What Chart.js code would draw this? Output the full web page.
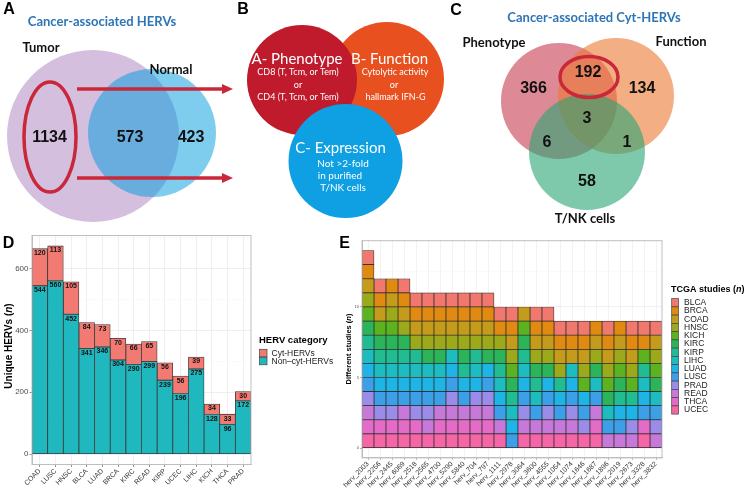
<!DOCTYPE html>
<html><head><meta charset="utf-8">
<script src="https://cdn.jsdelivr.net/npm/chart.js@4.4.1/dist/chart.umd.min.js"></script>
<style>
html,body{margin:0;padding:0;background:#fff;width:750px;height:492px;overflow:hidden;}
canvas{position:absolute;}
</style></head><body>
<canvas id="ov" width="750" height="492" style="left:0;top:0;z-index:1;width:750px;height:492px"></canvas>
<canvas id="cd" width="255" height="260" style="left:0;top:232px;z-index:2;width:255px;height:260px"></canvas>
<canvas id="ce" width="330" height="260" style="left:336px;top:232px;z-index:2;width:330px;height:260px"></canvas>
<script>
// ---------------- DATA ----------------
const vennASets = ['Tumor', 'Normal'];
const vennACounts = [1134, 573, 423];            // tumor only, both, normal only
const criteria = ['A- Phenotype', 'B- Function', 'C- Expression'];
const vennCSets = ['Phenotype', 'Function', 'T/NK cells'];
const vennCCounts = [366, 192, 134, 3, 6, 1, 58]; // P, P&F, F, all, P&T, F&T, T

const cancerTypes = ['COAD','LUSC','HNSC','BLCA','LUAD','BRCA','KIRC','READ','KIRP','UCEC','LIHC','KICH','THCA','PRAD'];
const cytHERVs    = [120,113,105,84,73,70,66,65,56,56,39,34,33,30];
const nonCytHERVs = [544,560,452,341,346,304,290,299,239,196,275,128,96,172];
const dYTicks = [0,200,400,600];

const tcgaStudies = ['BLCA','BRCA','COAD','HNSC','KICH','KIRC','KIRP','LIHC','LUAD','LUSC','PRAD','READ','THCA','UCEC'];
const hervIds = ['herv_2003','herv_2256','herv_2445','herv_6069','herv_2518','herv_2565','herv_4700','herv_5290','herv_5840','herv_704','herv_797','herv_1111','herv_2978','herv_3064','herv_3600','herv_4555','herv_1054','herv_1074','herv_1646','herv_1687','herv_1896','herv_2019','herv_2673','herv_3328','herv_3832'];
const hervStudies = [
 ['BLCA','BRCA','COAD','HNSC','KICH','KIRC','KIRP','LIHC','LUAD','LUSC','PRAD','READ','THCA','UCEC'],
 ['BLCA','BRCA','COAD','KICH','KIRC','KIRP','LIHC','LUAD','LUSC','PRAD','THCA','UCEC'],
 ['BRCA','COAD','HNSC','KICH','KIRC','KIRP','LIHC','LUAD','LUSC','PRAD','THCA','UCEC'],
 ['BLCA','BRCA','COAD','HNSC','KIRC','KIRP','LIHC','LUAD','LUSC','READ','THCA','UCEC'],
 ['BLCA','BRCA','COAD','HNSC','KIRP','LIHC','LUAD','LUSC','PRAD','THCA','UCEC'],
 ['BLCA','BRCA','COAD','HNSC','KIRC','LIHC','LUAD','LUSC','PRAD','READ','UCEC'],
 ['BLCA','BRCA','COAD','HNSC','KIRC','LIHC','LUAD','LUSC','READ','THCA','UCEC'],
 ['BLCA','BRCA','COAD','HNSC','LIHC','LUAD','LUSC','PRAD','READ','THCA','UCEC'],
 ['BLCA','BRCA','COAD','HNSC','KIRC','KIRP','LUAD','LUSC','READ','THCA','UCEC'],
 ['BLCA','BRCA','COAD','HNSC','KIRP','LIHC','LUAD','PRAD','READ','THCA','UCEC'],
 ['BLCA','BRCA','COAD','HNSC','KIRC','LUAD','LUSC','PRAD','READ','THCA','UCEC'],
 ['BLCA','BRCA','HNSC','KIRC','KIRP','LIHC','LUAD','LUSC','READ','UCEC'],
 ['BLCA','BRCA','COAD','HNSC','KICH','KIRC','KIRP','LIHC','LUAD','LUSC'],
 ['COAD','KICH','KIRC','KIRP','LIHC','LUAD','LUSC','PRAD','READ','UCEC'],
 ['BLCA','BRCA','COAD','HNSC','KIRC','KIRP','LIHC','LUSC','READ','UCEC'],
 ['BLCA','BRCA','COAD','HNSC','KIRC','LUAD','LUSC','PRAD','READ','UCEC'],
 ['BLCA','BRCA','COAD','HNSC','KIRP','LUAD','LUSC','READ','UCEC'],
 ['BLCA','BRCA','COAD','LIHC','LUAD','LUSC','PRAD','READ','UCEC'],
 ['BLCA','BRCA','COAD','HNSC','KICH','LUAD','LUSC','PRAD','UCEC'],
 ['BRCA','COAD','HNSC','KIRC','LIHC','LUSC','READ','THCA','UCEC'],
 ['BLCA','BRCA','COAD','HNSC','KICH','KIRC','LIHC','LUSC','READ'],
 ['BRCA','COAD','HNSC','KICH','KIRC','KIRP','LUAD','LUSC','READ'],
 ['BLCA','BRCA','COAD','HNSC','KICH','KIRP','LUAD','PRAD','READ'],
 ['BLCA','BRCA','KICH','KIRP','LIHC','LUAD','LUSC','THCA','UCEC'],
 ['BLCA','COAD','HNSC','KICH','KIRC','LIHC','LUSC','PRAD','READ']
];
const eYTicks = [0,5,10];

// ---------------- STYLE ----------------
const SANS = "'Liberation Sans', Arial, sans-serif";
const CAL = "Lato, 'Open Sans', sans-serif";
const studyColors = ['#F0786E','#E08A12','#C49B1A','#9CA91A','#5CB31F','#2BB45A','#21BC92','#1CBCC0','#1FB4E6','#3D9FE8','#9A8CE8','#C779D9','#E46BC6','#F466A6'];
const cytColor = '#F27A72', nonCytColor = '#1FB8BE';
const GRID = '#EBEBEB', BORDER = '#BEBEBE';

// layout of the diagram panels (page pixels)
const vennALayout = [{x:93,y:136,r:86,c:'rgba(169,127,191,0.5)'},{x:152,y:133,r:64,c:'rgba(0,155,221,0.5)'}];
const critLayout  = [{x:302,y:80,r:55,c:'#BF1B2C'},{x:387,y:79,r:57,c:'#E8511F'},{x:345.5,y:161,r:57,c:'#0EA0E2'}];
const vennCLayout = [{x:559,y:101,r:58,c:'rgba(200,60,80,0.6)'},{x:616,y:96,r:58,c:'rgba(235,120,50,0.6)'},{x:587,y:152,r:58,c:'rgba(40,165,115,0.6)'}];

// ---------------- OVERLAY (Venn panels, legends, titles) ----------------
function bubble(l, order){ return {type:'bubble', data:[{x:l.x,y:l.y,r:l.r}], backgroundColor:l.c, borderWidth:0, hoverRadius:0, order:order, clip:false}; }
const ovDatasets = [
  bubble(vennALayout[0],10), bubble(vennALayout[1],9),
  bubble(critLayout[1],8), bubble(critLayout[0],7), bubble(critLayout[2],6),
  bubble(vennCLayout[0],5), bubble(vennCLayout[1],4), bubble(vennCLayout[2],3)
];

function txt(ctx, s, x, y, font, color, align){ ctx.font=font; ctx.fillStyle=color; ctx.textAlign=align||'center'; ctx.textBaseline='middle'; ctx.fillText(s,x,y); }
function richTitle(ctx, parts, x, y, size, align){
  ctx.textBaseline='middle'; ctx.fillStyle='#000';
  let w=0; parts.forEach(p=>{ctx.font=(p[1]?'italic ':'')+'bold '+size+'px '+SANS; w+=ctx.measureText(p[0]).width;});
  let cx = align==='left' ? x : x - w/2;
  ctx.textAlign='left';
  parts.forEach(p=>{ctx.font=(p[1]?'italic ':'')+'bold '+size+'px '+SANS; ctx.fillText(p[0],cx,y); cx+=ctx.measureText(p[0]).width;});
}

const overlayPlugin = {
  id:'overlay',
  afterDatasetsDraw(chart){
    const ctx = chart.ctx, X = v=>chart.scales.x.getPixelForValue(v), Y = v=>chart.scales.y.getPixelForValue(v);
    ctx.save();
    const L = 'bold 16px '+SANS;
    txt(ctx,'A',X(9),Y(9.5),L,'#000'); txt(ctx,'B',X(243),Y(9.5),L,'#000'); txt(ctx,'C',X(456),Y(10.5),L,'#000');
    txt(ctx,'D',X(8.5),Y(243.5),L,'#000'); txt(ctx,'E',X(344.5),Y(244),L,'#000');
    // ---- A
    txt(ctx,'Cancer-associated HERVs',X(102),Y(22),'bold 13px '+CAL,'#2E75B6');
    txt(ctx,vennASets[0],X(41),Y(48),'bold 13px '+CAL,'#111');
    txt(ctx,vennASets[1],X(171),Y(70),'bold 13px '+CAL,'#111');
    const N='bold 16px '+SANS;
    txt(ctx,String(vennACounts[0]),X(49.5),Y(137.5),N,'#111');
    txt(ctx,String(vennACounts[1]),X(130),Y(137.5),N,'#111');
    txt(ctx,String(vennACounts[2]),X(191),Y(137.5),N,'#111');
    ctx.strokeStyle='#C9283A'; ctx.lineWidth=3.5;
    ctx.beginPath(); ctx.ellipse(X(50),Y(137),26,55,0,0,Math.PI*2); ctx.stroke();
    [89,178].forEach(yy=>{
      ctx.strokeStyle='#C9283A'; ctx.fillStyle='#C9283A'; ctx.lineWidth=3.5;
      ctx.beginPath(); ctx.moveTo(X(77),Y(yy)); ctx.lineTo(X(224),Y(yy)); ctx.stroke();
      ctx.beginPath(); ctx.moveTo(X(233),Y(yy)); ctx.lineTo(X(222),Y(yy-5)); ctx.lineTo(X(222),Y(yy+5)); ctx.closePath(); ctx.fill();
    });
    // ---- B
    const W='#fff';
    txt(ctx,criteria[0],X(297),Y(59),'15px '+CAL,W);
    txt(ctx,'CD8 (T, Tcm, or Tem)',X(298),Y(72.5),'9px '+CAL,W);
    txt(ctx,'or',X(298),Y(85),'9px '+CAL,W);
    txt(ctx,'CD4 (T, Tcm, or Tem)',X(298),Y(97),'9px '+CAL,W);
    txt(ctx,criteria[1],X(389.5),Y(59),'15px '+CAL,W);
    txt(ctx,'Cytolytic activity',X(395),Y(72.5),'9px '+CAL,W);
    txt(ctx,'or',X(394),Y(85),'9px '+CAL,W);
    txt(ctx,'hallmark IFN-G',X(395.5),Y(97),'9px '+CAL,W);
    txt(ctx,criteria[2],X(340.5),Y(148),'15px '+CAL,W);
    txt(ctx,'Not >2-fold',X(343),Y(164),'10px '+CAL,W);
    txt(ctx,'in purified',X(340),Y(176),'10px '+CAL,W);
    txt(ctx,'T/NK cells',X(343),Y(188),'10px '+CAL,W);
    // ---- C
    txt(ctx,'Cancer-associated Cyt-HERVs',X(594),Y(18),'bold 13px '+CAL,'#2E75B6');
    txt(ctx,vennCSets[0],X(494),Y(43),'bold 13px '+CAL,'#111');
    txt(ctx,vennCSets[1],X(681),Y(42),'bold 13px '+CAL,'#111');
    txt(ctx,vennCSets[2],X(585),Y(219),'bold 13px '+CAL,'#111');
    const cPos = [[533.5,88.5],[588,73],[642,88.5],[587,118.5],[547,142.5],[627,142.5],[587,182]];
    vennCCounts.forEach((v,i)=>txt(ctx,String(v),X(cPos[i][0]),Y(cPos[i][1]),N,'#111'));
    ctx.strokeStyle='#C9283A'; ctx.lineWidth=3.5;
    ctx.beginPath(); ctx.ellipse(X(589),Y(77),29,20.5,0,0,Math.PI*2); ctx.stroke();
    // ---- D axis title + legend
    ctx.save(); ctx.translate(X(9),Y(346)); ctx.rotate(-Math.PI/2);
    richTitle(ctx,[['Unique HERVs (',false],['n',true],[')',false]],0,0,10); ctx.restore();
    richTitle(ctx,[['HERV category',false]],X(259),Y(340.5),9.5,'left');
    [[cytColor,'Cyt-HERVs'],[nonCytColor,'Non\u2013cyt-HERVs']].forEach((it,i)=>{
      const y0 = 349.3 + i*8;
      ctx.fillStyle=it[0]; ctx.fillRect(X(259.5),Y(y0),7.5,7.5);
      ctx.strokeStyle='#444'; ctx.lineWidth=0.7; ctx.strokeRect(X(259.5),Y(y0),7.5,7.5);
      txt(ctx,it[1],X(271.5),Y(y0+4),'8.5px '+SANS,'#222','left');
    });
    // ---- E axis title + legend
    ctx.save(); ctx.translate(X(349),Y(349)); ctx.rotate(-Math.PI/2);
    richTitle(ctx,[['Different studies (',false],['n',true],[')',false]],0,0,7.5); ctx.restore();
    richTitle(ctx,[['TCGA studies (',false],['n',true],[')',false]],X(671),Y(289.5),9,'left');
    tcgaStudies.forEach((s,i)=>{
      const y0 = 298.6 + i*8.25;
      ctx.fillStyle=studyColors[i]; ctx.fillRect(X(671.7),Y(y0),6.8,8.25);
      ctx.strokeStyle='#444'; ctx.lineWidth=0.7; ctx.strokeRect(X(671.7),Y(y0),6.8,8.25);
      txt(ctx,s,X(684),Y(y0+4.3),'8.5px '+SANS,'#222','left');
    });
    ctx.restore();
  }
};

new Chart(document.getElementById('ov'), {
  type:'bubble',
  data:{datasets:ovDatasets},
  options:{responsive:false, animation:false, events:[], devicePixelRatio:1,
    layout:{padding:0, autoPadding:false},
    plugins:{legend:{display:false}, tooltip:{enabled:false}},
    scales:{x:{type:'linear',min:0,max:750,display:false}, y:{type:'linear',min:0,max:492,reverse:true,display:false}}},
  plugins:[overlayPlugin]
});

// ---------------- PANEL D ----------------
const borderPlugin = {
  id:'panelBorder',
  afterDatasetsDraw(chart){ const a=chart.chartArea, ctx=chart.ctx; ctx.save(); ctx.strokeStyle=BORDER; ctx.lineWidth=1; ctx.strokeRect(a.left,a.top,a.right-a.left,a.bottom-a.top); ctx.restore(); }
};
const dLabelPlugin = {
  id:'dLabels',
  afterDatasetsDraw(chart){
    const ctx=chart.ctx; ctx.save(); ctx.font='bold 7px '+SANS; ctx.fillStyle='#111'; ctx.textAlign='center'; ctx.textBaseline='middle';
    chart.data.datasets.forEach((ds,di)=>{ chart.getDatasetMeta(di).data.forEach((el,i)=>ctx.fillText(String(ds.data[i]), el.x, el.y+4.5)); });
    ctx.restore();
  }
};
const dMinor = v => !dYTicks.includes(v);
new Chart(document.getElementById('cd'), {
  type:'bar',
  data:{labels:cancerTypes, datasets:[
    {label:'Non\u2013cyt-HERVs', data:nonCytHERVs, backgroundColor:nonCytColor, borderColor:'#3a3a3a', borderWidth:0.8, borderSkipped:false, barPercentage:1, categoryPercentage:1},
    {label:'Cyt-HERVs', data:cytHERVs, backgroundColor:cytColor, borderColor:'#3a3a3a', borderWidth:0.8, borderSkipped:false, barPercentage:1, categoryPercentage:1}
  ]},
  options:{responsive:false, animation:false, events:[], devicePixelRatio:1,
    layout:{padding:{top:3.5,right:4,left:0,bottom:0}},
    plugins:{legend:{display:false}, tooltip:{enabled:false}},
    scales:{
      x:{stacked:true, offset:true,
        grid:{color:GRID, lineWidth:0.8, offset:false, tickLength:2.5, tickColor:'#777'},
        border:{color:BORDER},
        ticks:{font:{size:7,family:SANS}, color:'#333', minRotation:45, maxRotation:45, autoSkip:false, padding:0},
        afterFit(s){ s.height=27.5; s.paddingLeft=0; s.paddingRight=0; }},
      y:{stacked:true, min:-33.65, max:706.65,
        afterBuildTicks(s){ s.ticks=[0,100,200,300,400,500,600,700].map(v=>({value:v})); },
        grid:{color:c=>dMinor(c.tick.value)?'#F4F4F4':GRID, lineWidth:c=>dMinor(c.tick.value)?0.5:0.8, tickLength:2.5, tickColor:c=>dMinor(c.tick.value)?'rgba(0,0,0,0)':'#777'},
        border:{color:BORDER},
        ticks:{font:{size:8,family:SANS}, color:'#4D4D4D', padding:1, callback:v=>dYTicks.includes(v)?String(v):''},
        afterFit(s){ s.width=32; s.paddingTop=0; s.paddingBottom=0; }}
    }},
  plugins:[borderPlugin, dLabelPlugin]
});

// ---------------- PANEL E ----------------
const eDatasets = tcgaStudies.slice().reverse().map(s=>{
  const i = tcgaStudies.indexOf(s);
  return {label:s, data:hervStudies.map(lst=>lst.includes(s)?1:null), backgroundColor:studyColors[i], borderColor:'#2a2a2a', borderWidth:0.7, borderSkipped:false, barPercentage:1, categoryPercentage:1};
});
const eMinor = v => !eYTicks.includes(v);
new Chart(document.getElementById('ce'), {
  type:'bar',
  data:{labels:hervIds, datasets:eDatasets},
  options:{responsive:false, animation:false, events:[], devicePixelRatio:1,
    layout:{padding:{top:8.7,right:4,left:0,bottom:0}},
    plugins:{legend:{display:false}, tooltip:{enabled:false}},
    scales:{
      x:{stacked:true, offset:true,
        grid:{color:GRID, lineWidth:0.6, offset:false, tickLength:2, tickColor:'#888'},
        border:{color:BORDER},
        ticks:{font:{size:7,family:SANS}, color:'#333', minRotation:45, maxRotation:45, autoSkip:false, padding:0},
        afterFit(s){ s.height=34.1; s.paddingLeft=0; s.paddingRight=0; }},
      y:{stacked:true, min:-0.7, max:14.7,
        afterBuildTicks(s){ s.ticks=[0,2.5,5,7.5,10,12.5].map(v=>({value:v})); },
        grid:{color:c=>eMinor(c.tick.value)?'#F4F4F4':GRID, lineWidth:c=>eMinor(c.tick.value)?0.5:0.7, tickLength:2, tickColor:c=>eMinor(c.tick.value)?'rgba(0,0,0,0)':'#888'},
        border:{color:BORDER},
        ticks:{font:{size:4,family:SANS}, color:'#4D4D4D', padding:1, callback:v=>eYTicks.includes(v)?String(v):''},
        afterFit(s){ s.width=26; s.paddingTop=0; s.paddingBottom=0; }}
    }},
  plugins:[borderPlugin]
});
</script>
</body></html>
